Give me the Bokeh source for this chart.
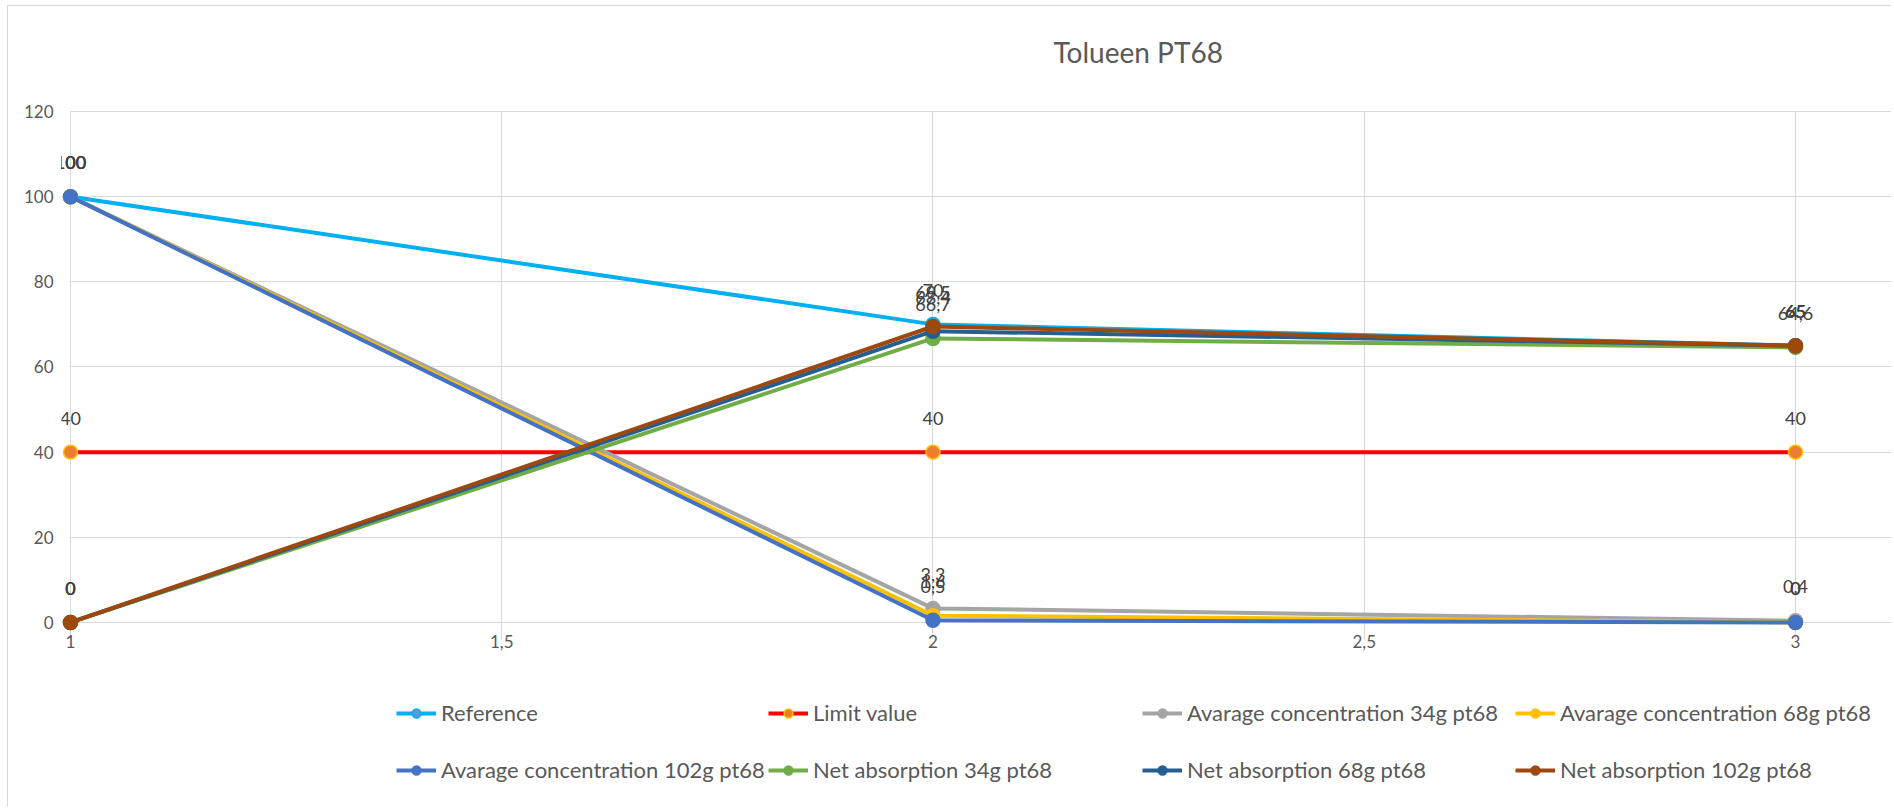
from bokeh.plotting import figure
from bokeh.models import Range1d, FixedTicker, Legend, LegendItem, ColumnDataSource
from bokeh.core.properties import value
from bokeh.embed import file_html
from bokeh.resources import INLINE

# ---- data ----
x_vals = [1, 2, 3]
reference = [100, 70, 65]
limit_value = [40, 40, 40]
avg_34g = [100, 3.3, 0.4]
avg_68g = [100, 1.6, 0]
avg_102g = [100, 0.5, 0]
net_34g = [0, 66.7, 64.6]
net_68g = [0, 68.4, 65]
net_102g = [0, 69.5, 65]

x_ticks = [1, 1.5, 2, 2.5, 3]
x_tick_labels = ["1", "1,5", "2", "2,5", "3"]
y_ticks = [0, 20, 40, 60, 80, 100, 120]

series_names = [
    "Reference", "Limit value",
    "Avarage concentration 34g pt68", "Avarage concentration 68g pt68",
    "Avarage concentration 102g pt68", "Net absorption 34g pt68",
    "Net absorption 68g pt68", "Net absorption 102g pt68",
]
series_values = [reference, limit_value, avg_34g, avg_68g, avg_102g,
                 net_34g, net_68g, net_102g]
line_colors = ["#00B0F0", "#FF0000", "#A5A5A5", "#FFC000",
               "#4472C4", "#70AD47", "#255E91", "#9E480E"]
marker_fill = ["#5B9BD5", "#ED7D31", "#A5A5A5", "#FFC000",
               "#4472C4", "#70AD47", "#255E91", "#9E480E"]
marker_line = ["#00B0F0", "#FFC000", "#A5A5A5", "#FFC000",
               "#4472C4", "#70AD47", "#255E91", "#9E480E"]

FONT = "Lato"
GRID = "#D9D9D9"
TXT = "#595959"

X0, X1 = 0.98957, 3.1125
Y0, Y1 = -37.59, 123.99

p = figure(width=1884, height=802, output_backend="svg", toolbar_location=None,
           x_range=Range1d(X0, X1), y_range=Range1d(Y0, Y1),
           min_border_left=53, min_border_right=0, min_border_top=88,
           min_border_bottom=26)
p.outline_line_color = None
p.styles = {"border-left": "1px solid #D9D9D9", "border-top": "1px solid #D9D9D9",
            "margin-left": "7px", "margin-top": "5px"}

p.title.text = "Tolueen PT68"
p.title.text_font = FONT
p.title.text_font_size = "28px"
p.title.text_font_style = "normal"
p.title.text_color = TXT
p.title.align = "left"
p.title.offset = 992
p.title.standoff = 52

p.xaxis.ticker = FixedTicker(ticks=x_ticks)
p.xaxis.major_label_overrides = {t: l for t, l in zip(x_ticks, x_tick_labels)}
p.xaxis.fixed_location = -1.6
p.yaxis.ticker = FixedTicker(ticks=y_ticks)
for ax in (p.xaxis, p.yaxis):
    ax.axis_line_color = None
    ax.major_tick_line_color = None
    ax.minor_tick_line_color = None
    ax.major_label_text_font = FONT
    ax.major_label_text_font_size = "17px"
    ax.major_label_text_color = TXT
p.xaxis.major_label_standoff = 0
p.yaxis.major_label_standoff = 2
p.xgrid.grid_line_color = GRID
p.ygrid.grid_line_color = GRID
p.xgrid.cross_bounds = (-4, 120)
p.ygrid.cross_bounds = (1, X1)

renderers = []
for name, vals, lc, mf, ml in zip(series_names, series_values, line_colors,
                                   marker_fill, marker_line):
    src = ColumnDataSource(dict(x=x_vals, y=vals))
    r1 = p.line("x", "y", source=src, line_color=lc, line_width=4)
    r2 = p.scatter("x", "y", source=src, size=14, fill_color=mf,
                   line_color=ml, line_width=1.5)
    renderers.append((name, [r1, r2]))

for vals in series_values:
    src = ColumnDataSource(dict(x=x_vals, y=vals,
                                t=[f"{v:g}".replace(".", ",") for v in vals]))
    p.text("x", "y", text="t", source=src, text_font=value(FONT),
           text_font_size="18px", text_align="center", text_baseline="middle",
           y_offset=-34, text_color="#404040")

columns = [[0, 4], [1, 5], [2, 6], [3, 7]]
col_x = [335, 707, 1081, 1454]
for cx, idxs in zip(col_x, columns):
    items = [LegendItem(label=renderers[i][0], renderers=renderers[i][1]) for i in idxs]
    lg = Legend(items=items, location=(cx, -1), orientation="vertical",
                glyph_width=40, glyph_height=22, label_height=22,
                label_standoff=5, spacing=30, padding=0, margin=0,
                border_line_color=None, background_fill_alpha=0,
                label_text_font=FONT, label_text_font_size="22px",
                label_text_color=TXT)
    p.add_layout(lg, "center")

open("out.html", "w").write(file_html(p, INLINE))
